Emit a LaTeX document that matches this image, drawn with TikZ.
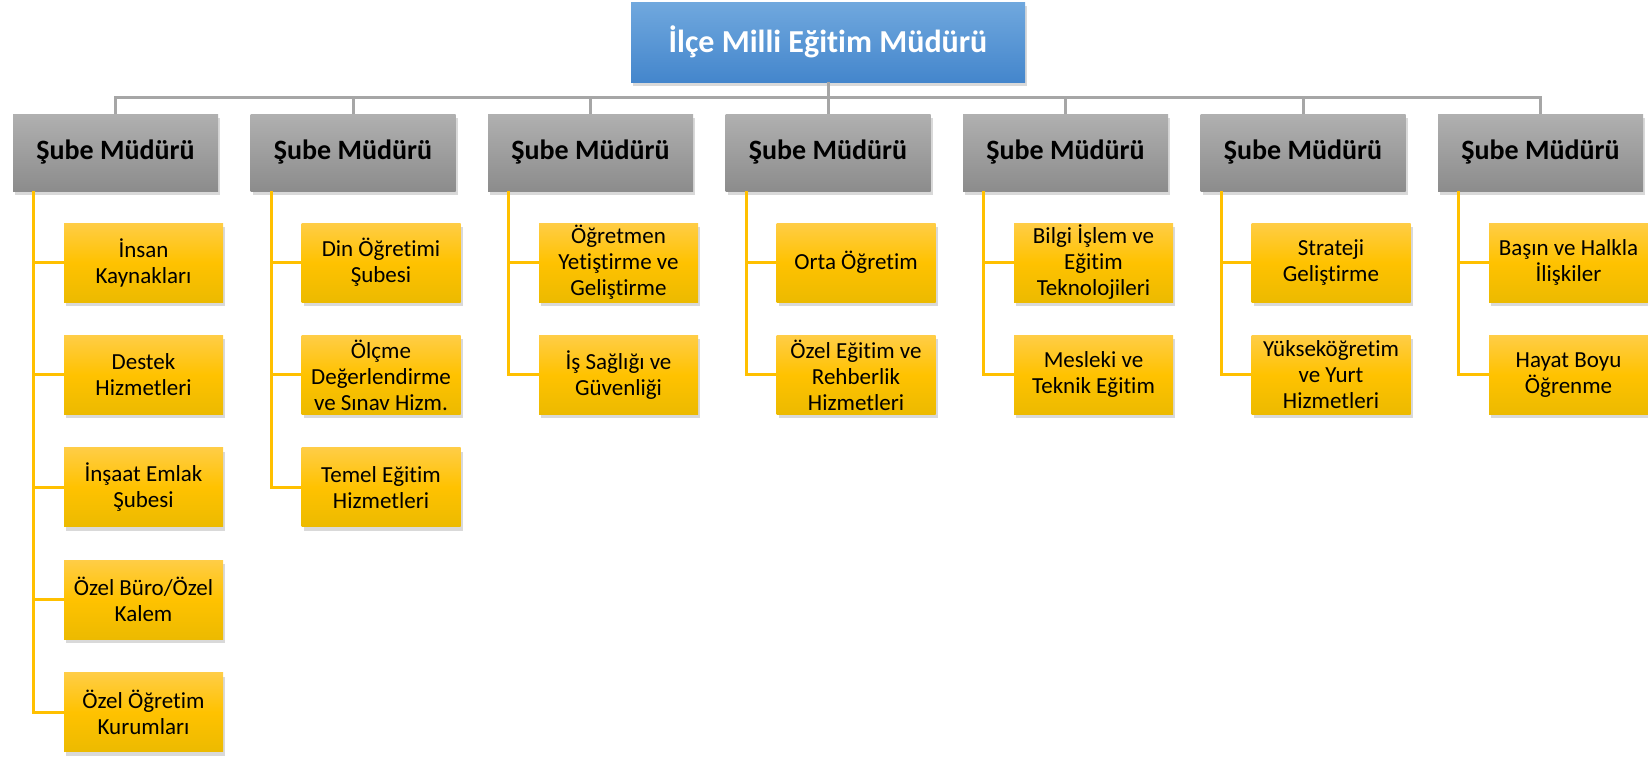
\documentclass[tikz,border=0pt]{standalone}
\usepackage{fontspec}
\setmainfont{Carlito}[Ligatures=NoCommon]
\usetikzlibrary{shadows}
\definecolor{blueT}{RGB}{112,168,222}
\definecolor{blueB}{RGB}{68,134,204}
\definecolor{grayT}{RGB}{176,176,176}
\definecolor{grayB}{RGB}{140,140,140}
\definecolor{goldT}{RGB}{255,205,70}
\definecolor{goldM}{RGB}{255,194,0}
\definecolor{goldB}{RGB}{236,186,0}
\definecolor{lineG}{RGB}{166,166,166}
\definecolor{lineY}{RGB}{255,192,0}
\begin{document}
\begin{tikzpicture}[x=1pt,y=-1pt,
 shad/.style={drop shadow={shadow xshift=2pt,shadow yshift=-4pt,opacity=0.3}},
 topbox/.style={shad, minimum width=394pt, minimum height=80pt, inner sep=0pt, top color=blueT, bottom color=blueB, text=white, font=\fontsize{32}{38}\selectfont\bfseries},
 gbox/.style={shad, minimum width=205pt, minimum height=77pt, inner sep=0pt, top color=grayT, bottom color=grayB, text=black, font=\fontsize{28}{32}\selectfont\bfseries},
 ybox/.style={shad, minimum width=159pt, minimum height=79pt, inner sep=0pt, align=center, top color=goldT, bottom color=goldB, middle color=goldM, text=black, font=\fontsize{23}{26}\selectfont},
 gl/.style={draw=lineG, line width=3pt},
 yl/.style={draw=lineY, line width=3pt},
]
\useasboundingbox (0,0) rectangle (1648,758);

\coordinate (bus) at (828,97);

\node[topbox] (top) at (828,42) {İlçe Milli Eğitim Müdürü};

\node[gbox] (g1) at (115.5,152.5) {Şube Müdürü};
\node[gbox] (g2) at (353,152.5) {Şube Müdürü};
\node[gbox] (g3) at (590.5,152.5) {Şube Müdürü};
\node[gbox] (g4) at (828,152.5) {Şube Müdürü};
\node[gbox] (g5) at (1065.5,152.5) {Şube Müdürü};
\node[gbox] (g6) at (1303,152.5) {Şube Müdürü};
\node[gbox] (g7) at (1540.5,152.5) {Şube Müdürü};

% column 1
\node[ybox] (c1a) at (143.5,262.5) {İnsan\\Kaynakları};
\node[ybox] (c1b) at (143.5,374.9) {Destek\\Hizmetleri};
\node[ybox] (c1c) at (143.5,487.3) {İnşaat Emlak\\Şubesi};
\node[ybox] (c1d) at (143.5,599.7) {Özel Büro/Özel\\Kalem};
\node[ybox] (c1e) at (143.5,712.1) {Özel Öğretim\\Kurumları};
% column 2
\node[ybox] (c2a) at (381,262.5) {Din Öğretimi\\Şubesi};
\node[ybox] (c2b) at (381,374.9) {Ölçme\\Değerlendirme\\ve Sınav Hizm.};
\node[ybox] (c2c) at (381,487.3) {Temel Eğitim\\Hizmetleri};
% column 3
\node[ybox] (c3a) at (618.5,262.5) {Öğretmen\\Yetiştirme ve\\Geliştirme};
\node[ybox] (c3b) at (618.5,374.9) {İş Sağlığı ve\\Güvenliği};
% column 4
\node[ybox] (c4a) at (856,262.5) {Orta Öğretim};
\node[ybox] (c4b) at (856,374.9) {Özel Eğitim ve\\Rehberlik\\Hizmetleri};
% column 5
\node[ybox] (c5a) at (1093.5,262.5) {Bilgi İşlem ve\\Eğitim\\Teknolojileri};
\node[ybox] (c5b) at (1093.5,374.9) {Mesleki ve\\Teknik Eğitim};
% column 6
\node[ybox] (c6a) at (1331,262.5) {Strateji\\Geliştirme};
\node[ybox] (c6b) at (1331,374.9) {Yükseköğretim\\ve Yurt\\Hizmetleri};
% column 7
\node[ybox] (c7a) at (1568.5,262.5) {Başın ve Halkla\\İlişkiler};
\node[ybox] (c7b) at (1568.5,374.9) {Hayat Boyu\\Öğrenme};

% gray connectors
\draw[gl] (top.south) -- (bus);
\foreach \g in {g1,g2,g3,g4,g5,g6,g7}{
  \draw[gl] (bus) -| (\g.north);
}

% yellow connectors
\foreach \c in {c1a,c1b,c1c,c1d,c1e}{ \draw[yl] ([xshift=21pt]g1.south west) |- (\c.west); }
\foreach \c in {c2a,c2b,c2c}{ \draw[yl] ([xshift=21pt]g2.south west) |- (\c.west); }
\foreach \c in {c3a,c3b}{ \draw[yl] ([xshift=21pt]g3.south west) |- (\c.west); }
\foreach \c in {c4a,c4b}{ \draw[yl] ([xshift=21pt]g4.south west) |- (\c.west); }
\foreach \c in {c5a,c5b}{ \draw[yl] ([xshift=21pt]g5.south west) |- (\c.west); }
\foreach \c in {c6a,c6b}{ \draw[yl] ([xshift=21pt]g6.south west) |- (\c.west); }
\foreach \c in {c7a,c7b}{ \draw[yl] ([xshift=21pt]g7.south west) |- (\c.west); }
\end{tikzpicture}
\end{document}
